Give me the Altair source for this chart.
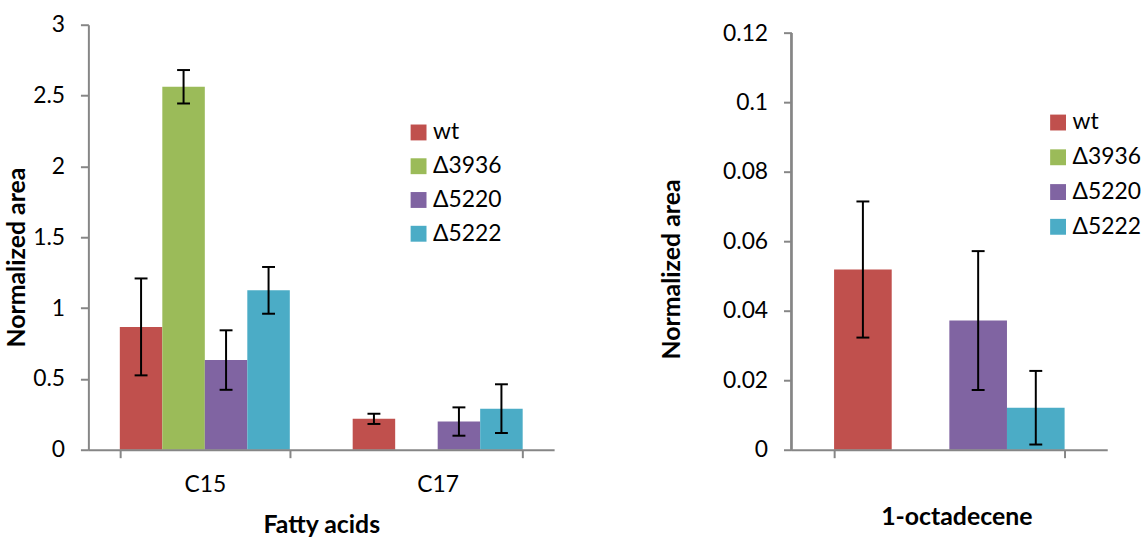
import altair as alt
import pandas as pd

SERIES = ["wt", "Δ3936", "Δ5220", "Δ5222"]
COLORS = ["#C0504D", "#9BBB59", "#8064A2", "#4BACC6"]

# Left panel: fatty acids
FA_CATS = ["C15", "C17"]
FA_WT = [0.867, 0.218]
FA_WT_ERR = [0.342, 0.036]
FA_3936 = [2.562, None]
FA_3936_ERR = [0.118, None]
FA_5220 = [0.633, 0.199]
FA_5220_ERR = [0.210, 0.100]
FA_5222 = [1.125, 0.290]
FA_5222_ERR = [0.165, 0.172]
FA_TICKS = [0, 0.5, 1, 1.5, 2, 2.5, 3]

# Right panel: 1-octadecene
OC_CATS = ["1-octadecene"]
OC_WT = [0.0519]
OC_WT_ERR = [0.0196]
OC_3936 = [None]
OC_3936_ERR = [None]
OC_5220 = [0.0372]
OC_5220_ERR = [0.0200]
OC_5222 = [0.0121]
OC_5222_ERR = [0.0106]
OC_TICKS = [0, 0.02, 0.04, 0.06, 0.08, 0.1, 0.12]

FONT = "Lato"
LABEL_FS = 23
TITLE_FS = 25
AX_GRAY = "#868686"


def build(cats, vals, errs):
    rows = []
    for s, v, e in zip(SERIES, vals, errs):
        for c, m, d in zip(cats, v, e):
            if m is None:
                continue
            rows.append({"cat": c, "series": s, "mean": m,
                         "lo": m - d, "hi": m + d})
    return pd.DataFrame(rows)


fa_df = build(FA_CATS, [FA_WT, FA_3936, FA_5220, FA_5222],
              [FA_WT_ERR, FA_3936_ERR, FA_5220_ERR, FA_5222_ERR])
oc_df = build(OC_CATS, [OC_WT, OC_3936, OC_5220, OC_5222],
              [OC_WT_ERR, OC_3936_ERR, OC_5220_ERR, OC_5222_ERR])


def panel(df, cats, ticks, ymax, w, h, xtitle, show_labels, xaxis_extra,
          yaxis_extra, legx, legy, rowpad, domain_rule=False):
    xscale = alt.Scale(domain=cats, paddingInner=0.27, paddingOuter=0.135)
    xaxis = alt.Axis(title=xtitle, labelAngle=0, tickBand="extent",
                     labels=show_labels, domainColor=AX_GRAY, tickColor=AX_GRAY,
                     domainWidth=2, tickWidth=2, tickSize=8, grid=False,
                     labelFont=FONT, labelFontSize=LABEL_FS, labelColor="black",
                     titleFont=FONT, titleFontSize=TITLE_FS, titleFontWeight="bold",
                     titleColor="black", zindex=1, **xaxis_extra)
    yaxis = alt.Axis(title="Normalized area", values=ticks, format="~g",
                     domain=not domain_rule,
                     domainColor=AX_GRAY, tickColor=AX_GRAY, domainWidth=2,
                     tickWidth=2, tickSize=8, grid=False, labelFont=FONT,
                     labelFontSize=LABEL_FS, labelColor="black", labelPadding=16,
                     titleFont=FONT, titleFontSize=TITLE_FS, titleFontWeight="bold",
                     titleColor="black", zindex=1, **yaxis_extra)
    yscale = alt.Scale(domain=[0, ymax], nice=False)
    xoff = alt.XOffset("series:N", scale=alt.Scale(domain=SERIES, paddingInner=0, paddingOuter=0))
    base = alt.Chart(df)
    bars = base.mark_bar().encode(
        x=alt.X("cat:N", scale=xscale, axis=xaxis),
        xOffset=xoff,
        y=alt.Y("mean:Q", scale=yscale, axis=yaxis),
        color=alt.Color("series:N", scale=alt.Scale(domain=SERIES, range=COLORS),
                        legend=alt.Legend(orient="none", legendX=legx, legendY=legy,
                                          title=None, symbolType="square",
                                          symbolSize=256, symbolStrokeWidth=0,
                                          labelFont=FONT, labelFontSize=LABEL_FS,
                                          labelColor="black", rowPadding=rowpad,
                                          labelOffset=3)),
    )
    enc = dict(x=alt.X("cat:N", scale=xscale), xOffset=xoff)
    rule = base.mark_rule(color="black", strokeWidth=2).encode(
        y="lo:Q", y2="hi:Q", **enc)
    cap_hi = base.mark_tick(color="black", thickness=2, size=13, opacity=1).encode(
        y="hi:Q", **enc)
    cap_lo = base.mark_tick(color="black", thickness=2, size=13, opacity=1).encode(
        y="lo:Q", **enc)
    layers = [bars, rule, cap_hi, cap_lo]
    if domain_rule:
        axis_line = alt.Chart(df).mark_rule(color=AX_GRAY, strokeWidth=2).encode(
            x=alt.value(0), y=alt.datum(ticks[0]), y2=alt.datum(ticks[-1]))
        layers.append(axis_line)
    return alt.layer(*layers).properties(width=w, height=h)


LEFT_H = 428
RIGHT_PLOT_H = 419.6  # height of the 0..0.12 span in the reference

left = panel(fa_df, FA_CATS, FA_TICKS, 3, 469, LEFT_H, "Fatty acids", True,
             dict(labelPadding=16, titlePadding=16),
             dict(titlePadding=3, titleY=234), 321, 97, 10)

right = panel(oc_df, OC_CATS, OC_TICKS, OC_TICKS[-1] * LEFT_H / RIGHT_PLOT_H,
              318, LEFT_H, "1-octadecene", False,
              dict(titlePadding=46, titleX=166),
              dict(titlePadding=38.5, titleY=246), 257, 87, 11, domain_rule=True)

chart = alt.hconcat(left, right, spacing=106).resolve_scale(
    color="independent", x="independent", y="independent", xOffset="independent"
).resolve_legend(color="independent").properties(
    padding={"left": 4, "top": 12, "right": 0, "bottom": 0}
).configure_view(stroke=None)

chart.save("out.html", embed_options={"renderer": "svg", "actions": False})
